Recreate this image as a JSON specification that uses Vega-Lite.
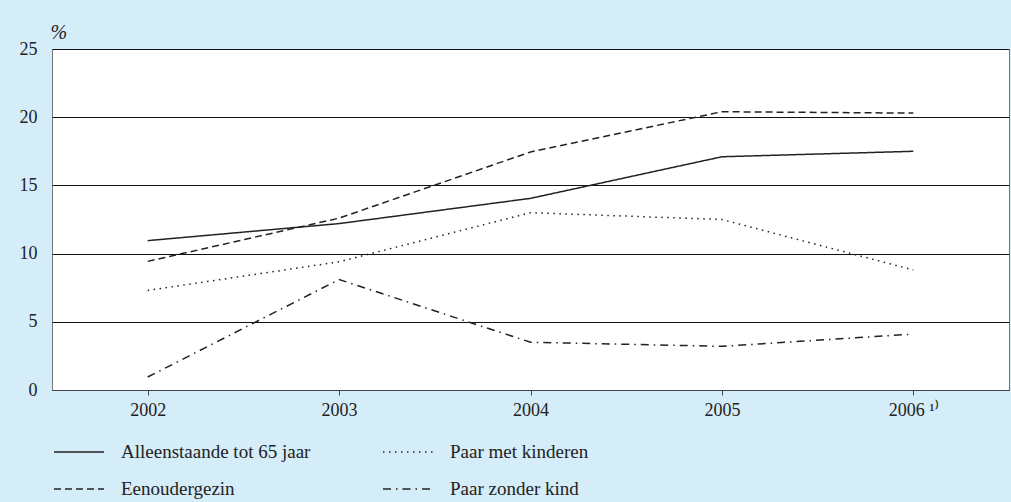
{
  "$schema": "https://vega.github.io/schema/vega-lite/v6.json",
  "width": 957,
  "height": 341,
  "autosize": {"type": "none"},
  "padding": {"left": 52, "top": 49, "right": 2, "bottom": 112},
  "background": "#d5ecf9",
  "config": {
    "view": {"fill": "white", "stroke": "#777", "strokeWidth": 1},
    "font": "Liberation Serif",
    "axis": {"labelFont": "Liberation Serif", "labelFontSize": 18, "labelColor": "#222", "titleFont": "Liberation Serif"},
    "legend": {"labelFont": "Liberation Serif", "labelFontSize": 19, "labelColor": "#222"}
  },
  "data": {
    "values": [
      {"jaar": "2002", "groep": "Alleenstaande tot 65 jaar", "pct": 10.95},
      {"jaar": "2003", "groep": "Alleenstaande tot 65 jaar", "pct": 12.2},
      {"jaar": "2004", "groep": "Alleenstaande tot 65 jaar", "pct": 14.05},
      {"jaar": "2005", "groep": "Alleenstaande tot 65 jaar", "pct": 17.1},
      {"jaar": "2006", "groep": "Alleenstaande tot 65 jaar", "pct": 17.5},
      {"jaar": "2002", "groep": "Eenoudergezin", "pct": 9.43},
      {"jaar": "2003", "groep": "Eenoudergezin", "pct": 12.6},
      {"jaar": "2004", "groep": "Eenoudergezin", "pct": 17.45},
      {"jaar": "2005", "groep": "Eenoudergezin", "pct": 20.4},
      {"jaar": "2006", "groep": "Eenoudergezin", "pct": 20.3},
      {"jaar": "2002", "groep": "Paar met kinderen", "pct": 7.3},
      {"jaar": "2003", "groep": "Paar met kinderen", "pct": 9.4},
      {"jaar": "2004", "groep": "Paar met kinderen", "pct": 13.0},
      {"jaar": "2005", "groep": "Paar met kinderen", "pct": 12.5},
      {"jaar": "2006", "groep": "Paar met kinderen", "pct": 8.8},
      {"jaar": "2002", "groep": "Paar zonder kind", "pct": 0.95},
      {"jaar": "2003", "groep": "Paar zonder kind", "pct": 8.1},
      {"jaar": "2004", "groep": "Paar zonder kind", "pct": 3.5},
      {"jaar": "2005", "groep": "Paar zonder kind", "pct": 3.2},
      {"jaar": "2006", "groep": "Paar zonder kind", "pct": 4.1}
    ]
  },
  "mark": {"type": "line", "strokeWidth": 1.5, "color": "#222"},
  "encoding": {
    "x": {
      "field": "jaar",
      "type": "ordinal",
      "scale": {"type": "point", "padding": 0.5},
      "axis": {
        "title": null,
        "labelAngle": 0,
        "domainColor": "#444",
        "tickColor": "#444",
        "tickSize": 5,
        "labelPadding": 6,
        "labelExpr": "datum.value == '2006' ? '2006 \u00b9\u207e' : datum.value"
      }
    },
    "y": {
      "field": "pct",
      "type": "quantitative",
      "scale": {"domain": [0, 25]},
      "axis": {
        "values": [0, 5, 10, 15, 20, 25],
        "grid": true,
        "gridColor": "#111",
        "gridOpacity": 1,
        "gridWidth": 1,
        "domain": false,
        "ticks": false,
        "labelPadding": 15,
        "title": "%",
        "titleAngle": 0,
        "titleAlign": "left",
        "titleBaseline": "alphabetic",
        "titleX": -2,
        "titleY": -11,
        "titleFontSize": 20,
        "titleFontStyle": "italic",
        "titleFontWeight": "normal",
        "titleColor": "#222"
      }
    },
    "strokeDash": {
      "field": "groep",
      "type": "nominal",
      "scale": {
        "domain": ["Alleenstaande tot 65 jaar", "Paar met kinderen", "Eenoudergezin", "Paar zonder kind"],
        "range": [[1, 0], [1.5, 4.5], [7, 4], [8, 5, 1.5, 5]]
      },
      "legend": {
        "title": null,
        "orient": "none",
        "legendX": 1,
        "legendY": 377,
        "direction": "horizontal",
        "columns": 2,
        "symbolType": "stroke",
        "symbolSize": 2500,
        "symbolStrokeWidth": 1.5,
        "symbolStrokeColor": "#222",
        "labelOffset": 16,
        "labelLimit": 400,
        "columnPadding": 69,
        "rowPadding": 1,
        "padding": 0
      }
    }
  }
}
